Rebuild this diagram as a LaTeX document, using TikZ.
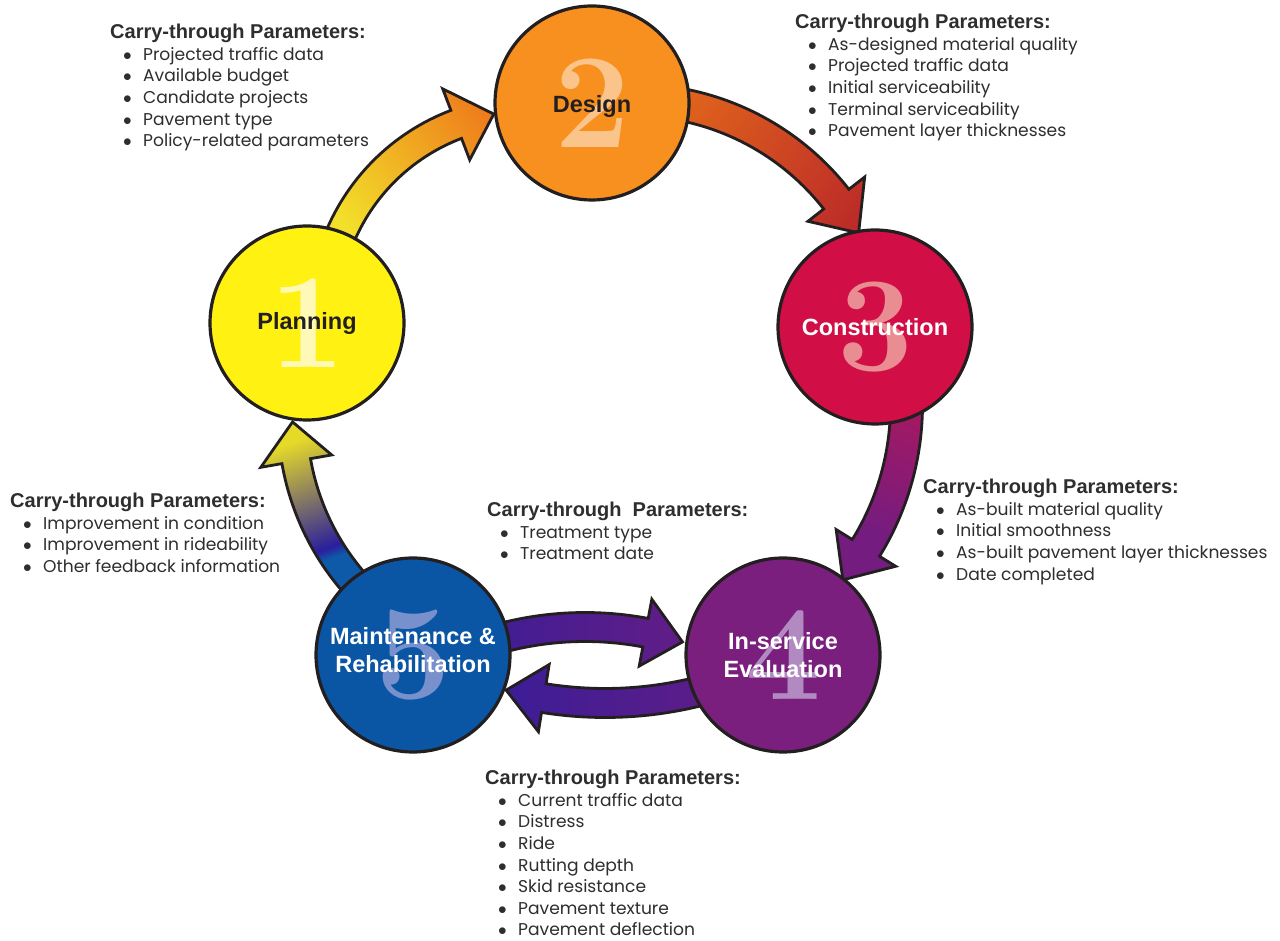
\documentclass[tikz,border=0pt]{standalone}
\usepackage{fontspec}
\newfontfamily\bodyfont{Poppins}
\newfontfamily\headfont{Liberation Sans}
\usetikzlibrary{positioning}

\definecolor{outline}{HTML}{231F20}
\definecolor{txt}{HTML}{2E2E2E}
\definecolor{yel}{HTML}{FFF212}
\definecolor{ora}{HTML}{F7901E}
\definecolor{cri}{HTML}{D20E46}
\definecolor{pur}{HTML}{7B1F7E}
\definecolor{blu}{HTML}{0A56A5}
\definecolor{numa}{HTML}{FFF9B8}
\definecolor{numb}{HTML}{FBC48A}
\definecolor{numc}{HTML}{EA8D92}
\definecolor{numd}{HTML}{B08AC0}
\definecolor{nume}{HTML}{7890CC}
\definecolor{shyel}{HTML}{F2E02A}
\definecolor{shora}{HTML}{EE7A1B}
\definecolor{shorb}{HTML}{EF7A17}
\definecolor{shred}{HTML}{B0192C}
\definecolor{shcri}{HTML}{C5174C}
\definecolor{shpur}{HTML}{741C80}
\definecolor{shind}{HTML}{2A1E9C}
\definecolor{shblu}{HTML}{0E5AA8}
\definecolor{sholi}{HTML}{E6DA28}

\pgfdeclareverticalshading{plantodesign}{100bp}{color(0bp)=(shyel); color(25bp)=(shyel); color(80bp)=(shora); color(100bp)=(shora)}
\pgfdeclareverticalshading{designtobuild}{100bp}{color(0bp)=(shorb); color(100bp)=(shred)}
\pgfdeclareverticalshading{buildtoeval}{100bp}{color(0bp)=(shcri); color(66bp)=(shpur); color(100bp)=(shpur)}
\pgfdeclareverticalshading{evaltomaint}{100bp}{color(0bp)=(shpur); color(100bp)=(shind)}
\pgfdeclareverticalshading{mainttoeval}{100bp}{color(0bp)=(shind); color(100bp)=(shpur)}
\pgfdeclareverticalshading{mainttoplan}{100bp}{color(0bp)=(shblu); color(40bp)=(shblu); color(43bp)=(shind); color(74bp)=(sholi); color(100bp)=(sholi)}

% #1 centre, #2 radius, #3 start, #4 head base, #5 half shaft, #6 half head, #7 tip, #8 shading, #9 angle
\newcommand{\blockarrow}[9]{%
  \pgfmathsetmacro{\rout}{#2+#5}%
  \pgfmathsetmacro{\rin}{#2-#5}%
  \pgfmathsetmacro{\hout}{#2+#6}%
  \pgfmathsetmacro{\hin}{#2-#6}%
  \shadedraw[shading=#8, shading angle=#9, draw=outline, line width=2.8pt, line join=miter]
    ([shift={(#1)}]#3:\rout) arc[start angle=#3, end angle=#4, radius=\rout]
    -- ([shift={(#1)}]#4:\hout) -- ([shift={(#1)}]#7:#2)
    -- ([shift={(#1)}]#4:\hin) -- ([shift={(#1)}]#4:\rin)
    arc[start angle=#4, end angle=#3, radius=\rin] -- cycle;}

\newcommand{\hd}[1]{{\headfont\bfseries\fontsize{20}{21.7}\selectfont #1}}
\newcommand{\itm}[1]{\hspace*{13pt}\makebox[20pt][l]{$\bullet$}#1}

\tikzset{
  stage/.style={circle, draw=outline, line width=3.2pt, minimum size=194pt, inner sep=0pt},
  numeral/.style={font=\bfseries\fontsize{135}{135}\selectfont, inner sep=0pt},
  stagelabel/.style={font=\headfont\bfseries\fontsize{23.5}{28}\selectfont, align=center, inner sep=0pt},
  params/.style={anchor=north west, align=left, inner sep=0pt, text=txt,
    font=\bodyfont\fontsize{17.1}{21.6}\selectfont}
}

\begin{document}
\begin{tikzpicture}[x=1pt,y=1pt]
\fill[white] (0,0) rectangle (1280,940);
\useasboundingbox (0,0) rectangle (1280,940);

\coordinate (c12) at (529,624);
\coordinate (c23) at (633,582);
\coordinate (c34) at (634.5,535);
\coordinate (c45) at (605,624);
\coordinate (c54) at (585,-13);
\coordinate (c51) at (543.5,522);

\blockarrow{c12}{205}{160}{110.8}{15}{38}{99.9}{plantodesign}{-52}
\blockarrow{c23}{258}{85}{38}{16}{36}{29}{designtobuild}{-127}
\blockarrow{c34}{272}{5}{-31.7}{16}{35}{-40}{buildtoeval}{-201}
\blockarrow{c45}{387}{-70}{-99.1}{14.5}{34}{-104.8}{evaltomaint}{90}
\blockarrow{c54}{326}{110}{79.3}{14.5}{34}{72.6}{mainttoeval}{-90}
\blockarrow{c51}{251}{230}{189.9}{14.5}{36}{180.9}{mainttoplan}{20}

\node[stage, fill=yel] (plan) at (307,617) {};
\node[stage, fill=ora] (design) at (592,837) {};
\node[stage, fill=cri] (build) at (875,613) {};
\node[stage, fill=pur] (eval) at (783,285) {};
\node[stage, fill=blu] (maint) at (413,285) {};

\node[numeral, text=numa] (n1) at (plan) {1};
\node[numeral, text=numb] (n2) at (design) {2};
\node[numeral, text=numc] (n3) at (build) {3};
\node[numeral, text=numd] (n4) at (eval) {4};
\node[numeral, text=nume] (n5) at (maint) {5};

\node[stagelabel, text=outline] (l1) at (plan) {Planning};
\node[stagelabel, text=outline] (l2) at ([yshift=-3]design.center) {Design};
\node[stagelabel, text=white] (l3) at (build) {Construction};
\node[stagelabel, text=white] (l4) at (eval) {In-service\\Evaluation};
\node[stagelabel, text=white] (l5) at ([yshift=5]maint.center) {Maintenance \&\\Rehabilitation};

\node[params] (p12) at (110,916) {\hd{Carry-through Parameters:}\\
  \itm{Projected traffic data}\\
  \itm{Available budget}\\
  \itm{Candidate projects}\\
  \itm{Pavement type}\\
  \itm{Policy-related parameters}};
\node[params] (p23) at (795,926) {\hd{Carry-through Parameters:}\\
  \itm{As-designed material quality}\\
  \itm{Projected traffic data}\\
  \itm{Initial serviceability}\\
  \itm{Terminal serviceability}\\
  \itm{Pavement layer thicknesses}};
\node[params] (p34) at (923,461) {\hd{Carry-through Parameters:}\\
  \itm{As-built material quality}\\
  \itm{Initial smoothness}\\
  \itm{As-built pavement layer thicknesses}\\
  \itm{Date completed}};
\node[params] (p54) at (487,438) {\hd{Carry-through\ \ Parameters:}\\
  \itm{Treatment type}\\
  \itm{Treatment date}};
\node[params] (p51) at (10,447) {\hd{Carry-through Parameters:}\\
  \itm{Improvement in condition}\\
  \itm{Improvement in rideability}\\
  \itm{Other feedback information}};
\node[params] (p45) at (485,170) {\hd{Carry-through Parameters:}\\
  \itm{Current traffic data}\\
  \itm{Distress}\\
  \itm{Ride}\\
  \itm{Rutting depth}\\
  \itm{Skid resistance}\\
  \itm{Pavement texture}\\
  \itm{Pavement deflection}};
\end{tikzpicture}
\end{document}
